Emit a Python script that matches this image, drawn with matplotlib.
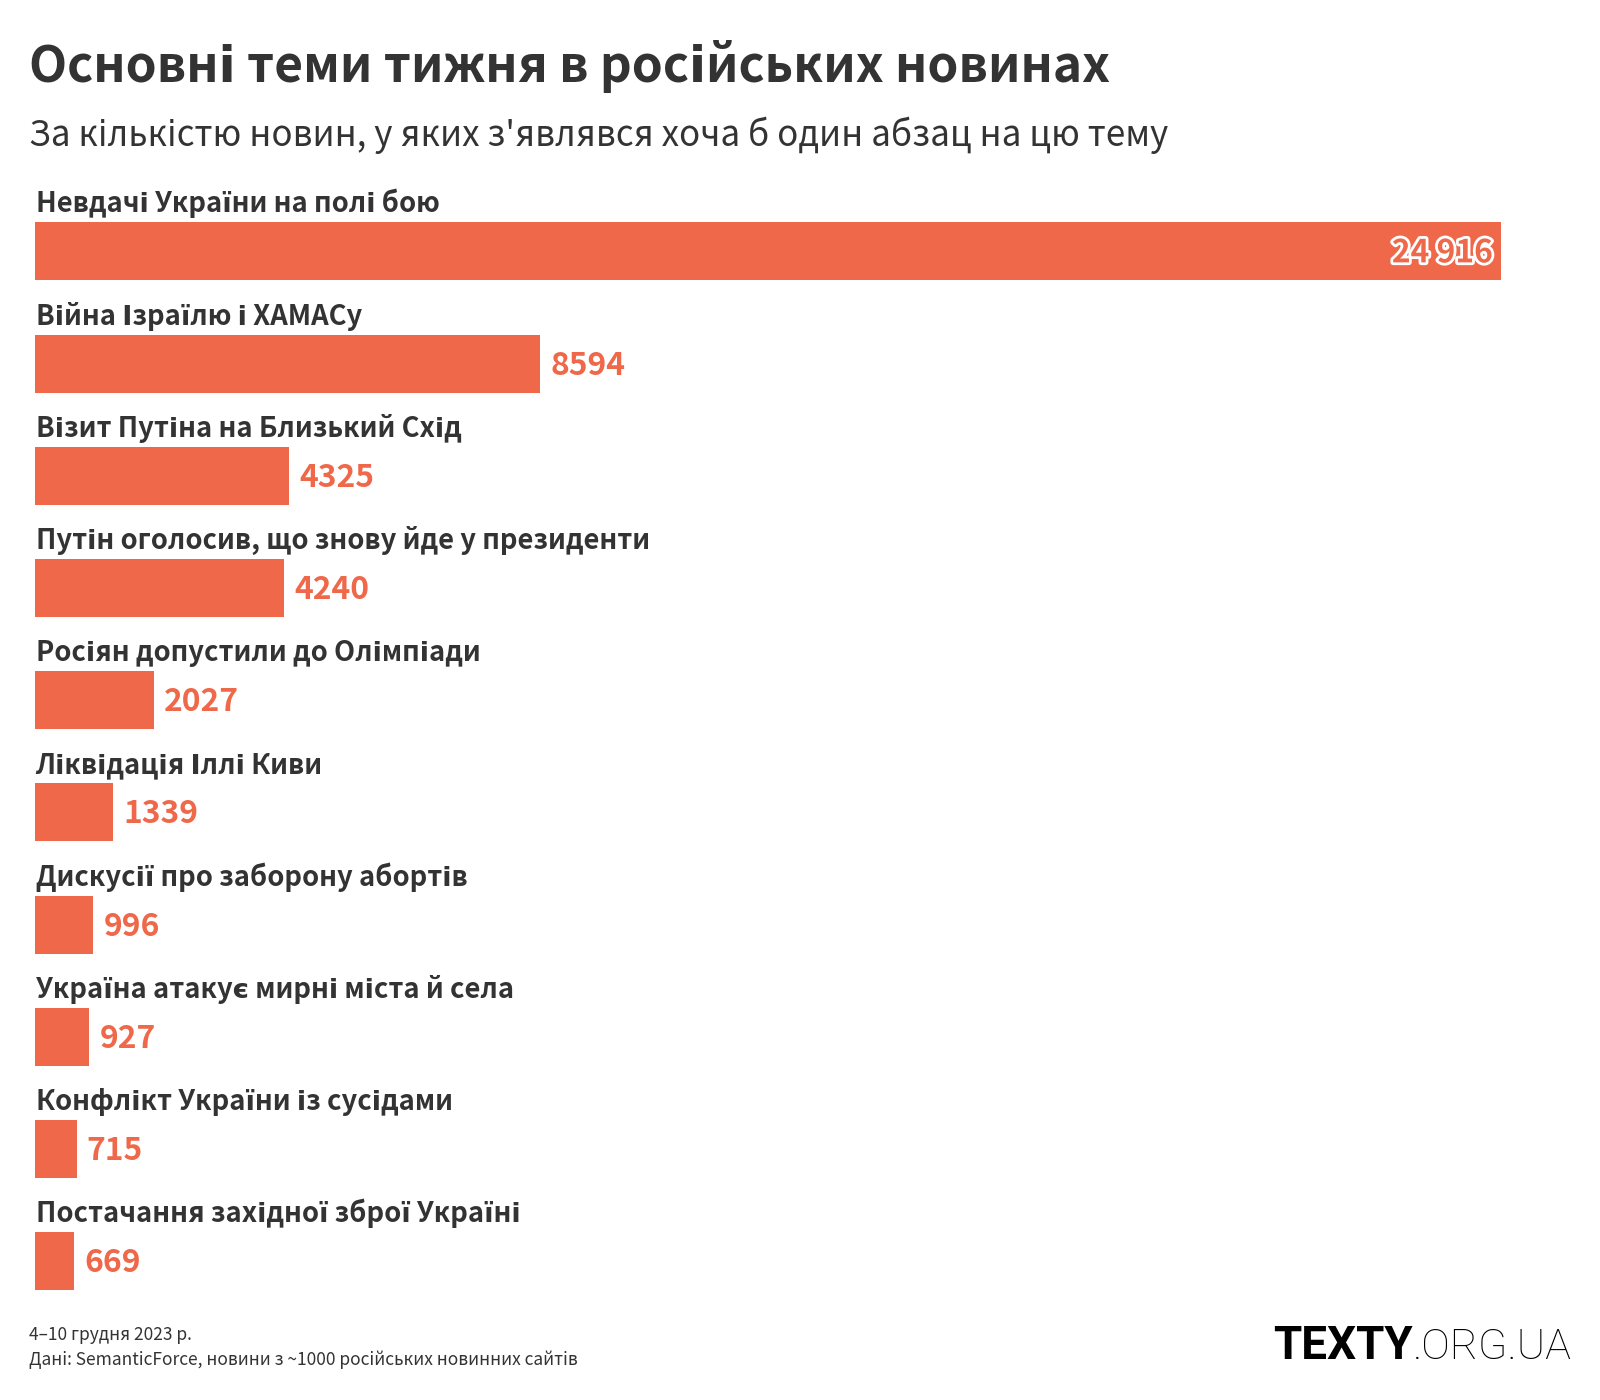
from matplotlib import pyplot as plt
import matplotlib.patheffects as pe

plt.rcParams['font.family'] = ['Noto Sans CJK SC', 'DejaVu Sans']

topics = [
    'Невдачі України на полі бою',
    'Війна Ізраїлю і ХАМАСу',
    'Візит Путіна на Близький Схід',
    'Путін оголосив, що знову йде у президенти',
    'Росіян допустили до Олімпіади',
    'Ліквідація Іллі Киви',
    'Дискусії про заборону абортів',
    'Україна атакує мирні міста й села',
    'Конфлікт України із сусідами',
    'Постачання західної зброї Україні',
]
counts = [24916, 8594, 4325, 4240, 2027, 1339, 996, 927, 715, 669]
value_labels = ['24 916', '8594', '4325', '4240', '2027', '1339', '996', '927', '715', '669']

bar_color = '#ee6849'
text_color = '#333333'

W, H = 1600, 1400
fig = plt.figure(figsize=(16, 14), dpi=100)

ax = fig.add_axes([34.7 / W, 1 - 1317.3 / H, (1501 - 34.7) / W, (1317.3 - 195.3) / H])
n = len(counts)
pos = list(range(n))
ax.barh(pos, counts, height=58 / 112.2, color=bar_color, left=0)
ax.set_xlim(0, max(counts))
ax.set_ylim(n - 0.5, -0.5)
ax.axis('off')

for i, (t, v, lab) in enumerate(zip(topics, counts, value_labels)):
    ax.annotate(t, xy=(0, i), xytext=(0.7, 28.1), textcoords='offset points',
                ha='left', va='baseline', fontsize=19.7, fontweight='bold', color=text_color)
    if i == 0:
        ax.annotate(lab, xy=(v, i), xytext=(-5.8, -7.9), textcoords='offset points',
                    ha='right', va='baseline', fontsize=22.9, fontweight='bold', color=bar_color,
                    path_effects=[pe.withStroke(linewidth=4, foreground='white')])
    else:
        ax.annotate(lab, xy=(v, i), xytext=(7.2, -7.9), textcoords='offset points',
                    ha='left', va='baseline', fontsize=22.9, fontweight='bold', color=bar_color)

# title and subtitle
fig.text(28.6 / W, 1 - 81.6 / H, 'Основні теми тижня в російських новинах',
         fontsize=35.8, fontweight='bold', color=text_color, ha='left', va='baseline')
fig.text(28.6 / W, 1 - 146 / H, "За кількістю новин, у яких з'являвся хоча б один абзац на цю тему",
         fontsize=25.2, color=text_color, ha='left', va='baseline')

# footer
fig.text(28.6 / W, 1 - 1340 / H, '4–10 грудня 2023 р.', fontsize=12.5, color=text_color,
         ha='left', va='baseline')
fig.text(28.6 / W, 1 - 1365 / H, 'Дані: SemanticForce, новини з ~1000 російських новинних сайтів',
         fontsize=12.5, color=text_color, ha='left', va='baseline')

# logo
org = fig.text(1572 / W, 1 - 1359 / H, '.ORG.UA', fontsize=31, fontweight='light',
               family='Roboto', color='black', ha='right', va='baseline')
fig.canvas.draw()
bb = org.get_window_extent()
fig.text(bb.x0 / W, 1 - 1359 / H, 'TEXTY', fontsize=33, fontweight='bold',
         family='Roboto', color='black', ha='right', va='baseline')

fig.savefig('out.png', dpi=100, facecolor='white')
